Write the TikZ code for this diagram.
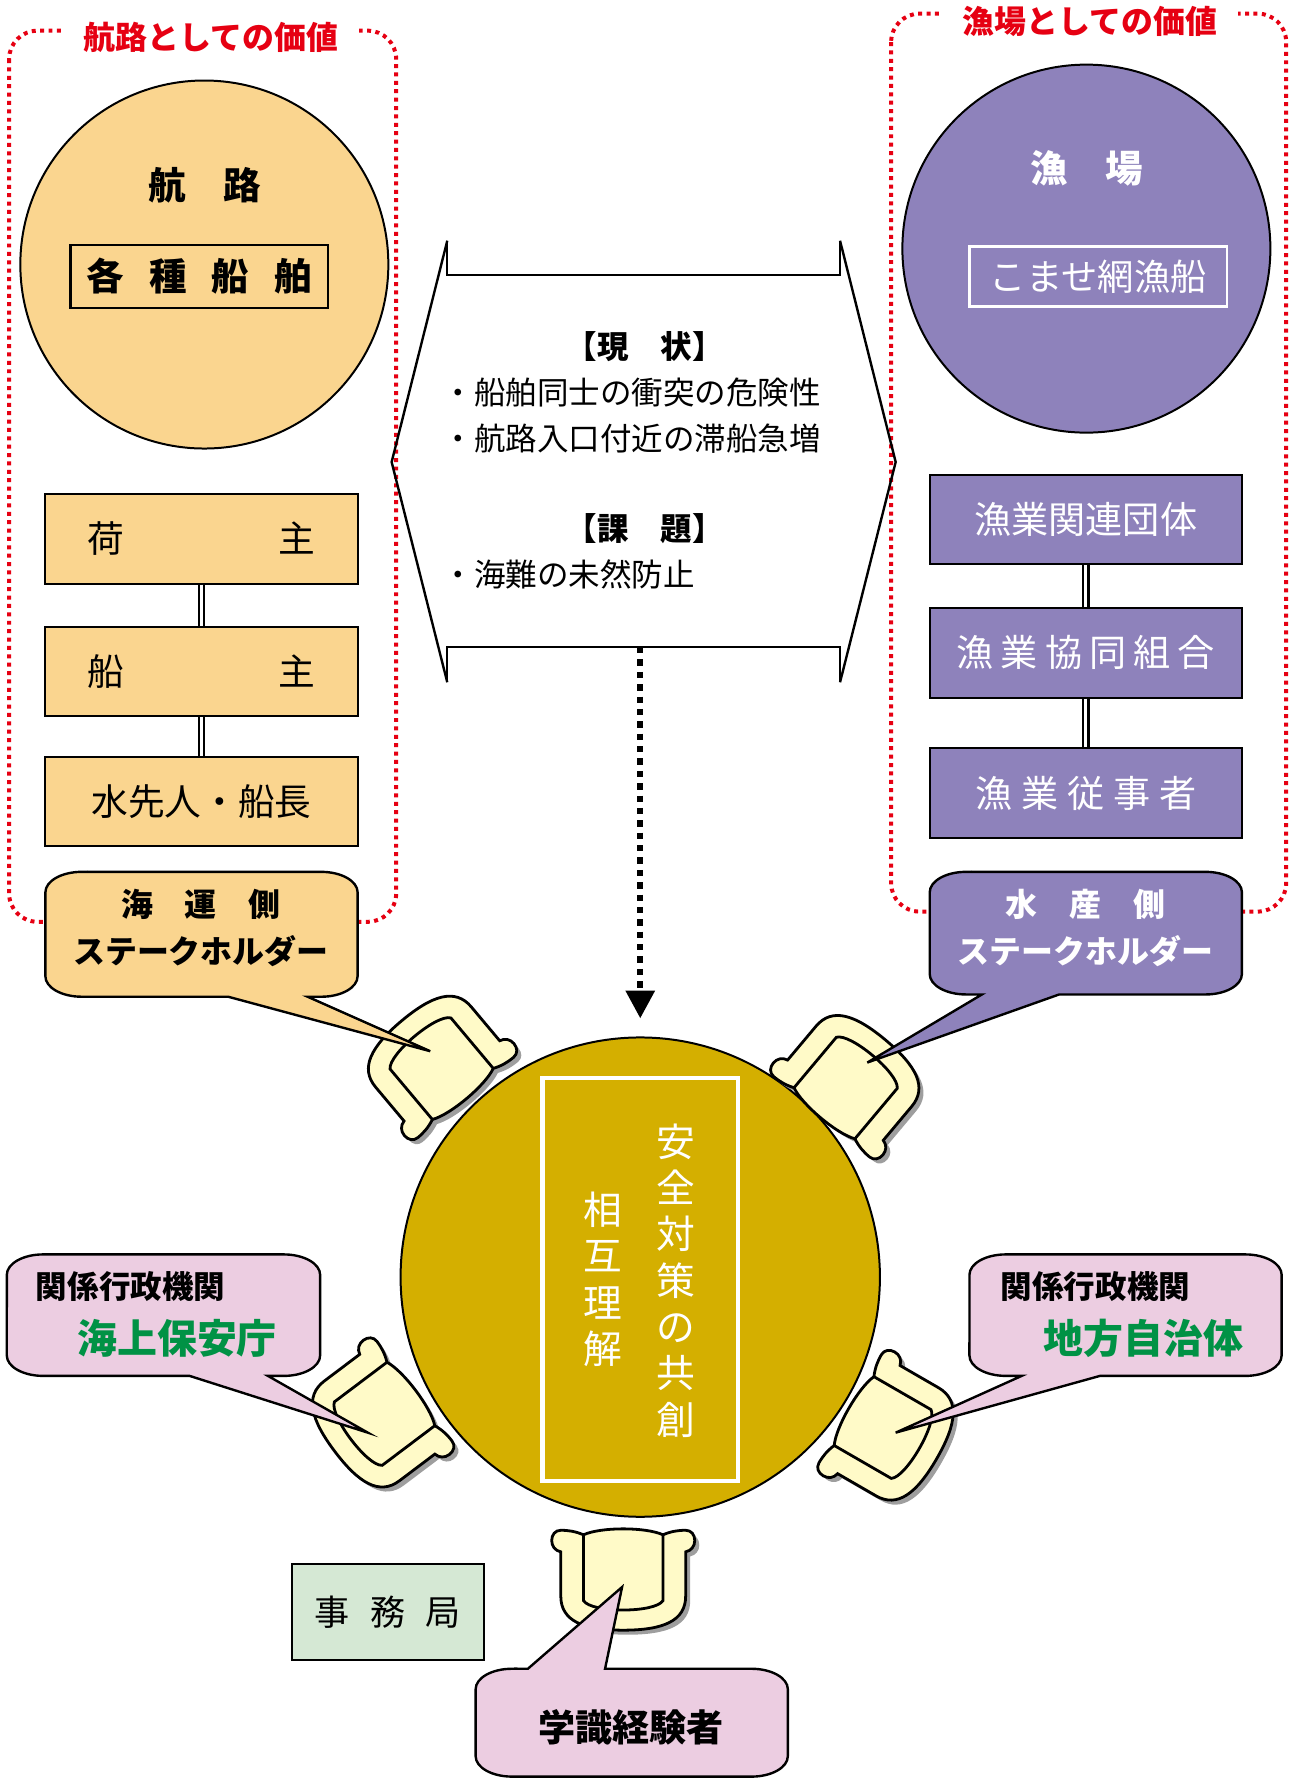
\documentclass[tikz,border=0pt]{standalone}
\usepackage{fontspec}
\setmainfont{Noto Sans CJK JP}
\usetikzlibrary{arrows.meta}
\definecolor{shiporange}{RGB}{250,213,143}
\definecolor{fishpurple}{RGB}{142,130,187}
\definecolor{tablegold}{RGB}{212,175,0}
\definecolor{chairyellow}{RGB}{255,250,200}
\definecolor{govpink}{RGB}{236,205,225}
\definecolor{officegreen}{RGB}{213,232,212}
\definecolor{valuered}{RGB}{230,0,18}
\definecolor{govgreen}{RGB}{0,146,69}
\newcommand{\jpsize}[2]{\fontsize{#1}{#2}\selectfont}

% chair seen from above, front edge towards +y
\def\chairouter{(-35,40) .. controls (-42,43) and (-48,44) .. (-55,44)
  .. controls (-60,44) and (-63,40) .. (-63,35) .. controls (-63,30) and (-60,26) .. (-55,25)
  -- (-55,-14) .. controls (-55,-36) and (-35,-44) .. (0,-44)
  .. controls (35,-44) and (55,-36) .. (55,-14) -- (55,25)
  .. controls (60,26) and (63,30) .. (63,35) .. controls (63,40) and (60,44) .. (55,44)
  .. controls (48,44) and (42,43) .. (35,40) .. controls (20,47) and (-20,47) .. (-35,40) -- cycle}
\def\chairinner{(-35,40) -- (-35,-18) .. controls (-28,-29) and (28,-29) .. (35,-18) -- (35,40)}
\newcommand{\chair}[4]{%
  \begin{scope}[shift={({#2+4},{#3-4})},rotate=#4]
    \fill[black!38] \chairouter;
  \end{scope}
  \begin{scope}[shift={(#2,#3)},rotate=#4,line width=0.7pt]
    \draw[fill=chairyellow] \chairouter;
    \draw \chairinner;
  \end{scope}
  \coordinate (#1) at (#2,#3);}
% speech bubbles: [style] x1 ytop x2 ybottom base1 base2 tip
\newcommand{\bubbledown}[8][]{%
  \draw[bubble,#1] ({#2+32},#3) -- ({#4-32},#3)
    arc[start angle=90,end angle=0,x radius=0.32cm,y radius=0.18cm] -- (#4,{#5+18})
    arc[start angle=0,end angle=-90,x radius=0.32cm,y radius=0.18cm] -- (#7,#5) -- (#8) -- (#6,#5) -- ({#2+32},#5)
    arc[start angle=270,end angle=180,x radius=0.32cm,y radius=0.18cm] -- (#2,{#3-18})
    arc[start angle=180,end angle=90,x radius=0.32cm,y radius=0.18cm] -- cycle;}
\newcommand{\bubbleup}[8][]{%
  \draw[bubble,#1] ({#2+32},#3) -- (#6,#3) -- (#8) -- (#7,#3) -- ({#4-32},#3)
    arc[start angle=90,end angle=0,x radius=0.32cm,y radius=0.18cm] -- (#4,{#5+18})
    arc[start angle=0,end angle=-90,x radius=0.32cm,y radius=0.18cm] -- ({#2+32},#5)
    arc[start angle=270,end angle=180,x radius=0.32cm,y radius=0.18cm] -- (#2,{#3-18})
    arc[start angle=180,end angle=90,x radius=0.32cm,y radius=0.18cm] -- cycle;}

\begin{document}
\begin{tikzpicture}[x=0.01cm, y=0.01cm, line width=0.5pt]
    \tikzstyle{valueframe}=[draw=valuered, line width=1pt, dash pattern=on 1pt off 1.1pt, rounded corners=0.25cm]
    \tikzstyle{valuetitle}=[fill=white, text=valuered, inner xsep=0.18cm, inner ysep=1pt, font=\bfseries\jpsize{8}{10}]
    \tikzstyle{valuecircle}=[circle, draw, minimum size=3.24cm, inner sep=0pt]
    \tikzstyle{shipbox}=[draw, fill=shiporange, minimum width=2.75cm, minimum height=0.79cm, inner sep=0pt, font=\jpsize{9.2}{11}]
    \tikzstyle{fishbox}=[shipbox, fill=fishpurple, text=white, font=\jpsize{9.3}{11}]
    \tikzstyle{link}=[double, double distance=0.8pt, line width=0.6pt]
    \tikzstyle{issueline}=[line width=0.6pt]
    \tikzstyle{issuetext}=[inner sep=0pt, font=\jpsize{7.9}{11.4}]
    \tikzstyle{dotarrow}=[line width=1.6pt, dash pattern=on 1.6pt off 1.5pt, -{Triangle[width=7pt,length=7pt]}, shorten >=4.5pt]
    \tikzstyle{columntext}=[align=center, text=white, inner sep=0pt, font=\jpsize{9.7}{11.6}]
    \tikzstyle{bubble}=[draw, line width=0.6pt]
    \tikzstyle{bubbletext}=[font=\bfseries\jpsize{8}{10}]

    \useasboundingbox (0,0) rectangle (1138,-1568);

    \draw[valueframe] (8,-27) rectangle (349,-812);
    \node[valuetitle] (routevalue) at (186,-33) {航路としての価値};
    \draw[valueframe] (785,-12) rectangle (1133,-803);
    \node[valuetitle] (fishvalue) at (960,-19) {漁場としての価値};

    \node[valuecircle, fill=shiporange] (route) at (180,-233) {};
    \node[font=\bfseries\jpsize{9.4}{11}] (routename) at (180,-163) {航　路};
    \node[draw, line width=0.6pt, minimum width=2.27cm, minimum height=0.53cm, font=\bfseries\jpsize{9.4}{11}] (ships) at (175.5,-243.5) {各\hspace{0.67em}種\hspace{0.67em}船\hspace{0.67em}舶};

    \node[valuecircle, fill=fishpurple] (ground) at (957,-219) {};
    \node[text=white, font=\bfseries\jpsize{9.4}{11}] (groundname) at (957,-148) {漁　場};
    \node[draw=white, line width=0.6pt, text=white, minimum width=2.27cm, minimum height=0.53cm, font=\jpsize{9.1}{11}] (komase) at (967.5,-243.5) {こませ網漁船};

    \node[shipbox] (cargo) at (177.5,-474.5) {荷\hspace{4.2em}主};
    \node[shipbox] (owner) at (177.5,-591.5) {船\hspace{4.2em}主};
    \node[shipbox] (pilot) at (177.5,-706) {水先人・船長};
    \draw[link] (cargo) -- (owner);
    \draw[link] (owner) -- (pilot);

    \node[fishbox] (fishorg) at (956.5,-457.5) {漁業関連団体};
    \node[fishbox] (coop) at (956.5,-575) {漁\hspace{.19em}業\hspace{.19em}協\hspace{.19em}同\hspace{.19em}組\hspace{.19em}合};
    \node[fishbox] (fisher) at (956.5,-698.5) {漁\hspace{.24em}業\hspace{.24em}従\hspace{.24em}事\hspace{.24em}者};
    \draw[link] (fishorg) -- (coop);
    \draw[link] (coop) -- (fisher);

    \draw[issueline] (394,-212) -- (345,-407) -- (394,-601);
    \draw[issueline] (740,-212) -- (789,-407) -- (740,-601);
    \draw[issueline] (394,-212) -- (394,-242) -- (740,-242) -- (740,-212);
    \draw[issueline] (394,-601) -- (394,-570) -- (740,-570) -- (740,-601);
    \node[issuetext, font=\bfseries\jpsize{7.9}{11.4}] (nowhead) at (568,-305) {【現　状】};
    \node[issuetext, anchor=west, align=left] (nowlist) at (389,-366) {・船舶同士の衝突の危険性\\・航路入口付近の滞船急増};
    \node[issuetext, font=\bfseries\jpsize{7.9}{11.4}] (taskhead) at (568,-466) {【課　題】};
    \node[issuetext, anchor=west] (tasklist) at (389,-506) {・海難の未然防止};
    \coordinate (issuebot) at (564,-570);

    \node[circle, draw, fill=tablegold, minimum size=4.22cm, inner sep=0pt] (table) at (564,-1125) {};
    \node[draw=white, line width=1.1pt, minimum width=1.72cm, minimum height=3.55cm, inner sep=0pt] (theme) at (564,-1127) {};
    \node[columntext] (cocreate) at (595,-1128) {安\\全\\対\\策\\の\\共\\創};
    \node[columntext] (mutual) at (531,-1127) {相\\互\\理\\解};
    \draw[dotarrow] (issuebot) -- (table);

    \chair{seatA}{382}{-933}{-140}
    \chair{seatB}{752}{-950}{140}
    \chair{seatC}{330}{-1252}{-53}
    \chair{seatD}{787}{-1263}{60}
    \chair{seatE}{549}{-1392}{0}

    \coordinate (tipA) at (379,-926);
    \coordinate (tipB) at (764,-936);
    \coordinate (tipC) at (324,-1262);
    \coordinate (tipD) at (789,-1262);
    \coordinate (tipE) at (548,-1398);

    \bubbledown[fill=shiporange]{40}{-768}{315}{-878}{201}{271}{tipA}
    \node[bubbletext] (shipside) at (177,-797) {海　運　側};
    \node[bubbletext] (shipstake) at (177,-838) {ステークホルダー};

    \bubbledown[fill=fishpurple]{819}{-768}{1094}{-876}{865}{933}{tipB}
    \node[bubbletext, text=white] (fishside) at (956,-797) {水　産　側};
    \node[bubbletext, text=white] (fishstake) at (956,-838) {ステークホルダー};

    \bubbledown[fill=govpink]{6}{-1105}{282}{-1212}{167}{236}{tipC}
    \node[bubbletext, font=\bfseries\jpsize{7.9}{10}] (govA) at (115,-1133) {関係行政機関};
    \node[text=govgreen, font=\bfseries\jpsize{10}{12}] (coastguard) at (156,-1179) {海上保安庁};

    \bubbledown[fill=govpink]{854}{-1105}{1129}{-1212}{900}{969}{tipD}
    \node[bubbletext, font=\bfseries\jpsize{7.9}{10}] (govB) at (965,-1133) {関係行政機関};
    \node[text=govgreen, font=\bfseries\jpsize{10}{12}] (localgov) at (1007,-1179) {地方自治体};

    \bubbleup[fill=govpink]{419}{-1470}{694}{-1565}{465}{533}{tipE}
    \node[font=\bfseries\jpsize{9.3}{11}] (experts) at (556,-1522) {学識経験者};

    \node[draw, fill=officegreen, minimum width=1.69cm, minimum height=0.84cm, font=\jpsize{8.8}{11}] (office) at (341.5,-1420) {事\hspace{.58em}務\hspace{.58em}局};
\end{tikzpicture}
\end{document}
